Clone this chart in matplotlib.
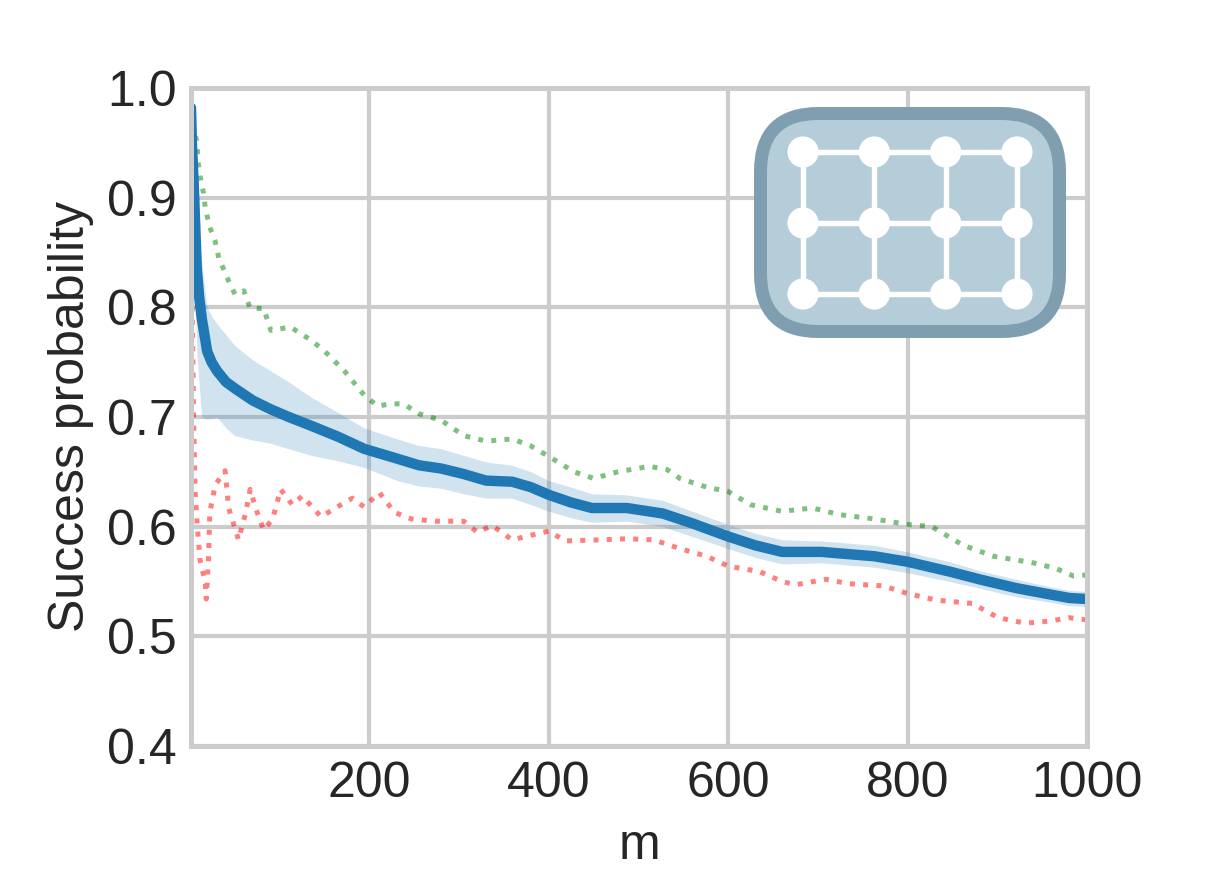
import numpy as np
import matplotlib
matplotlib.use("Agg")
import matplotlib.pyplot as plt
import seaborn as sns
from matplotlib.patches import FancyBboxPatch, Circle

# mean success probability with confidence band
mean_m = [1, 2, 4, 7.5, 10, 13, 16, 19, 24, 30, 40, 50, 70, 90, 110, 135, 165, 194, 231,
          255, 280, 305, 330, 359, 380, 400, 425, 448, 487, 527, 560, 600, 630, 660, 704,
          763, 800, 847, 880, 921, 960, 980, 1000]
mean_p = [0.982, 0.95, 0.913, 0.835, 0.810, 0.790, 0.775, 0.760, 0.750, 0.742, 0.732,
          0.726, 0.715, 0.707, 0.700, 0.692, 0.682, 0.671, 0.662, 0.656, 0.653, 0.648,
          0.642, 0.641, 0.636, 0.629, 0.622, 0.617, 0.617, 0.612, 0.603, 0.591, 0.583,
          0.577, 0.577, 0.573, 0.568, 0.559, 0.552, 0.544, 0.538, 0.535, 0.534]
band_lo = [0.982, 0.93, 0.85, 0.76, 0.73, 0.70, 0.699, 0.698, 0.699, 0.700, 0.690, 0.683,
           0.679, 0.676, 0.671, 0.665, 0.660, 0.654, 0.642, 0.637, 0.635, 0.630, 0.626,
           0.626, 0.620, 0.614, 0.608, 0.604, 0.605, 0.600, 0.591, 0.580, 0.572, 0.566,
           0.567, 0.563, 0.558, 0.550, 0.544, 0.536, 0.531, 0.528, 0.527]
band_hi = [0.982, 0.965, 0.935, 0.875, 0.86, 0.84, 0.82, 0.80, 0.792, 0.785, 0.775,
           0.765, 0.752, 0.742, 0.732, 0.718, 0.704, 0.690, 0.680, 0.674, 0.671, 0.665,
           0.659, 0.656, 0.650, 0.642, 0.636, 0.630, 0.629, 0.624, 0.614, 0.602, 0.594,
           0.588, 0.587, 0.583, 0.577, 0.568, 0.560, 0.552, 0.545, 0.542, 0.541]

# best case (green)
best_m = [1, 4, 7.5, 9, 11, 15, 17, 22, 28, 32, 43, 50, 60, 67, 82, 90, 112, 135, 150,
          172, 194, 209, 224, 238, 255, 280, 305, 330, 359, 379, 400, 428, 450, 477, 512,
          532, 546, 576, 600, 625, 660, 694, 724, 763, 800, 827, 862, 896, 940, 965, 985, 1000]
best_p = [0.992, 0.963, 0.951, 0.932, 0.920, 0.904, 0.890, 0.873, 0.860, 0.845, 0.824,
          0.812, 0.815, 0.799, 0.799, 0.779, 0.782, 0.770, 0.760, 0.742, 0.720, 0.710,
          0.712, 0.712, 0.703, 0.697, 0.683, 0.678, 0.680, 0.674, 0.664, 0.650, 0.644,
          0.650, 0.655, 0.652, 0.644, 0.636, 0.632, 0.620, 0.614, 0.617, 0.611, 0.607,
          0.602, 0.600, 0.583, 0.573, 0.567, 0.562, 0.555, 0.556]

# worst case (red)
worst_m = [1, 2, 4, 5.6, 8, 11, 17, 18, 20.5, 22, 28, 39, 43, 54, 62, 67, 73, 82, 92,
           101, 114, 125, 146, 164, 181, 194, 211, 228, 247, 273, 305, 320, 337, 359, 379,
           400, 418, 458, 487, 517, 546, 576, 600, 635, 660, 675, 709, 734, 773, 800, 832,
           872, 901, 931, 960, 980, 1000]
worst_p = [0.982, 0.82, 0.695, 0.632, 0.601, 0.570, 0.548, 0.534, 0.570, 0.613, 0.638,
           0.651, 0.617, 0.588, 0.613, 0.634, 0.617, 0.597, 0.607, 0.634, 0.620, 0.628,
           0.609, 0.618, 0.626, 0.618, 0.631, 0.613, 0.607, 0.605, 0.605, 0.595, 0.601,
           0.588, 0.592, 0.596, 0.587, 0.588, 0.589, 0.588, 0.580, 0.573, 0.564, 0.559,
           0.550, 0.547, 0.552, 0.548, 0.546, 0.539, 0.533, 0.530, 0.517, 0.512, 0.514,
           0.517, 0.515]

# grid device icon: 3 x 4 nodes
icon_cols = 4
icon_rows = 3

sns.set_style("whitegrid")
plt.rcParams['font.family'] = ['Liberation Sans', 'DejaVu Sans']

fig = plt.figure(figsize=(1213 / 300, 889 / 300), dpi=300)
ax = fig.add_axes([191 / 1213, 1 - 746 / 889, 896 / 1213, 658 / 889])

ax.fill_between(mean_m, band_lo, band_hi, color="#1f77b4", alpha=0.2, lw=0)
ax.plot(best_m, best_p, ":", color="g", alpha=0.5, lw=1.2)
ax.plot(worst_m, worst_p, ":", color="r", alpha=0.5, lw=1.2)
ax.plot(mean_m, mean_p, "-", color="#1f77b4", lw=2.5)

ax.set_xlim(1, 1000)
ax.set_ylim(0.4, 1.0)
ax.set_xlabel("m", fontsize=12, labelpad=4)
ax.set_ylabel("Success probability", fontsize=12, labelpad=3)
ax.tick_params(labelsize=12, length=0, pad=3.5)
ax.grid(color=".8", lw=1)
for s in ax.spines.values():
    s.set_color(".8")
    s.set_linewidth(1.2)

# icon in the top right corner
iax = fig.add_axes([754 / 1213, 1 - 338 / 889, 312 / 1213, 231 / 889])
iax.set_xlim(0, 312)
iax.set_ylim(0, 231)
iax.axis("off")
iax.add_patch(FancyBboxPatch((6.5, 6.5), 299, 218,
                             boxstyle="round,pad=0,rounding_size=58",
                             fc="#b5cdd8", ec="#7f9eb0", lw=13 * 72 / 300))
xs = np.linspace(49, 263, icon_cols)
ys = np.linspace(44, 186, icon_rows)
for y in ys:
    iax.plot([xs[0], xs[-1]], [y, y], color="white", lw=1.3)
for x in xs:
    iax.plot([x, x], [ys[0], ys[-1]], color="white", lw=1.3)
for x in xs:
    for y in ys:
        iax.add_patch(Circle((x, y), 13.5, color="white"))

fig.savefig("out.png", dpi=300)
